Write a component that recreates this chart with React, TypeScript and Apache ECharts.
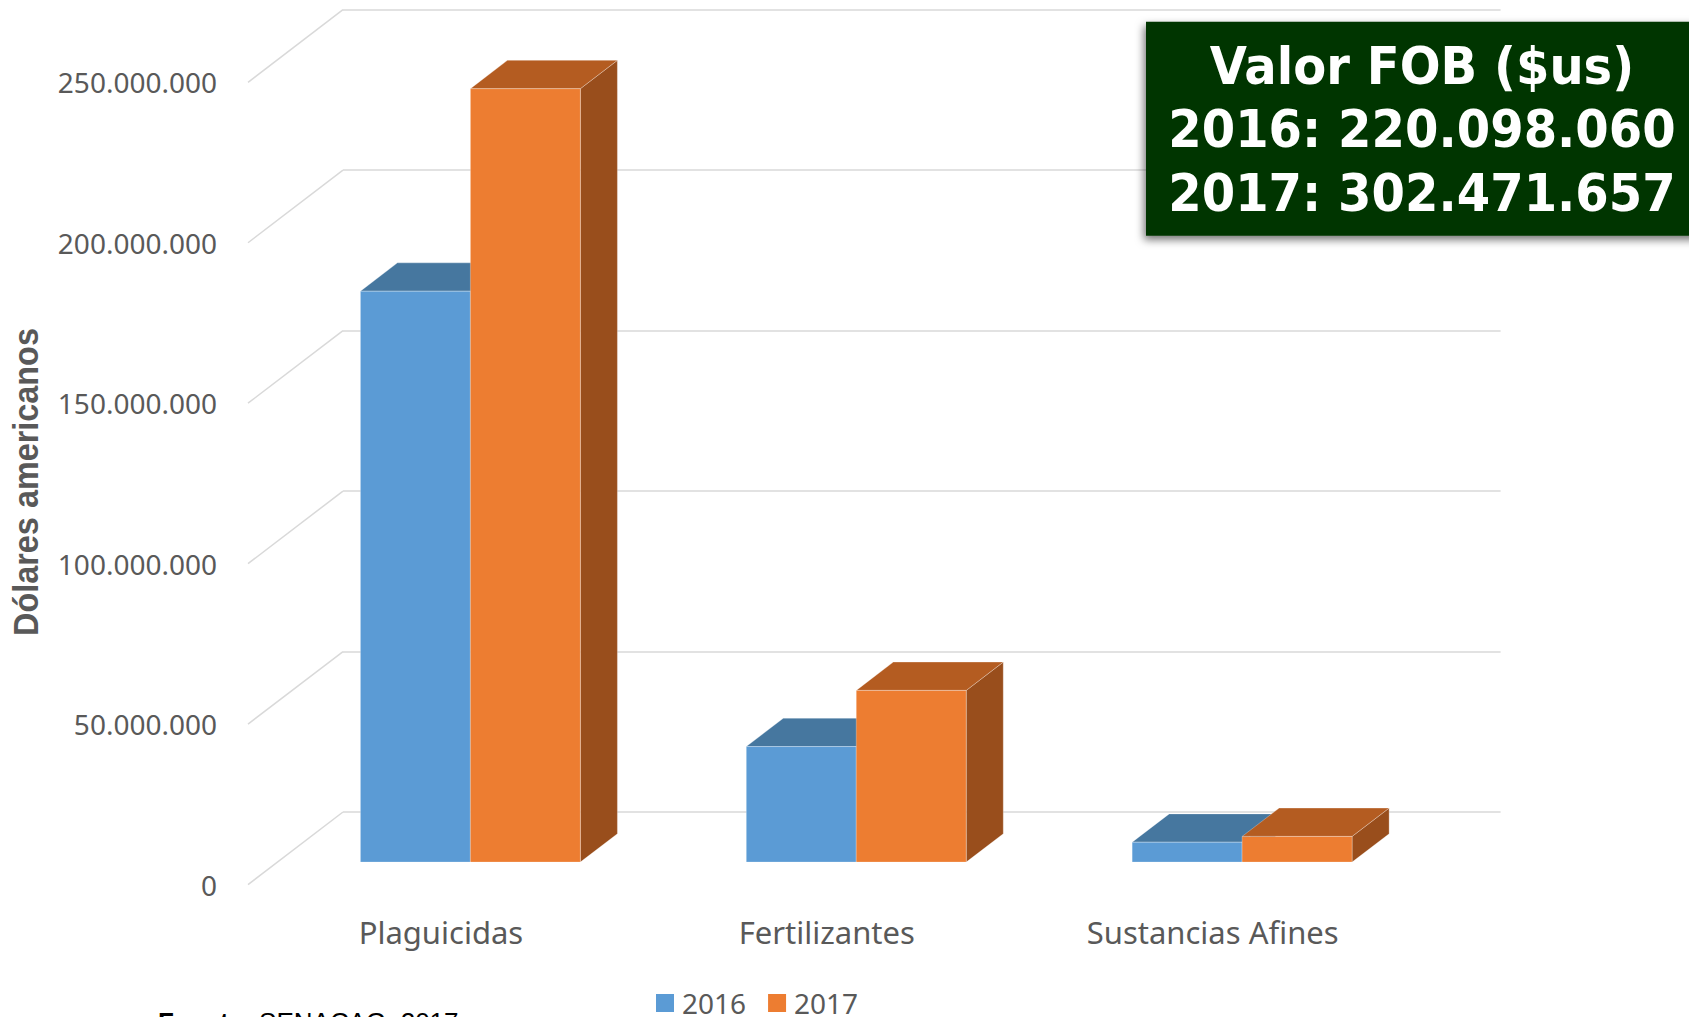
import React, { useEffect, useRef } from "react";
import * as echarts from "echarts";

// ---- data ----
const categories = ["Plaguicidas", "Fertilizantes", "Sustancias Afines"];
const seriesNames = ["2016", "2017"];
const values2016 = [177900000, 36000000, 6200000];
const values2017 = [241000000, 53500000, 8000000];
const yTicks = [0, 50000000, 100000000, 150000000, 200000000, 250000000];
const boxLines = ["Valor FOB ($us)", "2016: 220.098.060", "2017: 302.471.657"];
const axisTitle = "Dólares americanos";
const sourceBold = "Fuente:";
const sourceText = " SENACAG, 2017";

// ---- layout / style ----
const W = 1689;
const H = 1017;
const DX = -95; // oblique depth projection (front minus back)
const DY = 72.6;
const FRONT_F = 0.69; // bar front face position along depth
const BACK_F = 0.3; // bar back face position along depth
const BAR_RATIO = 0.285;
const BACK_GRID = { left: 343, top: 9.7, width: 1157.6, height: 802.3 };
const FRONT_GRID = {
  left: BACK_GRID.left + DX,
  top: BACK_GRID.top + DY,
  width: BACK_GRID.width,
  height: BACK_GRID.height,
};
const GRID_COLOR = "#D9D9D9";
const LABEL_COLOR = "#595959";
const COLORS = {
  "2016": { front: "#5B9BD5", top: "#46779F", side: "#3E6A92" },
  "2017": { front: "#ED7D31", top: "#B45C21", side: "#994E1C" },
};

const fmt = (v: number) => String(v).replace(/\B(?=(\d{3})+(?!\d))/g, ".");

function barRenderer(side: number, c: { front: string; top: string; side: string }) {
  return (params: any, api: any) => {
    const cat = api.value(0);
    const val = api.value(1);
    const base = api.coord([cat, 0]);
    const top = api.coord([cat, val]);
    const band = api.size([1, 0])[0];
    const w = band * BAR_RATIO;
    const x0 = side < 0 ? base[0] - w : base[0];
    const x1 = x0 + w;
    const fx = DX * FRONT_F;
    const fy = DY * FRONT_F;
    const bx = DX * BACK_F;
    const by = DY * BACK_F;
    const yb = base[1];
    const yt = top[1];
    const edge = { stroke: "rgba(255,255,255,0.35)", lineWidth: 0.8 };
    return {
      type: "group",
      children: [
        {
          type: "polygon",
          shape: {
            points: [
              [x1 + fx, yb + fy],
              [x1 + bx, yb + by],
              [x1 + bx, yt + by],
              [x1 + fx, yt + fy],
            ],
          },
          style: { fill: c.side, ...edge },
        },
        {
          type: "polygon",
          shape: {
            points: [
              [x0 + fx, yt + fy],
              [x1 + fx, yt + fy],
              [x1 + bx, yt + by],
              [x0 + bx, yt + by],
            ],
          },
          style: { fill: c.top, ...edge },
        },
        {
          type: "polygon",
          shape: {
            points: [
              [x0 + fx, yb + fy],
              [x1 + fx, yb + fy],
              [x1 + fx, yt + fy],
              [x0 + fx, yt + fy],
            ],
          },
          style: { fill: c.front, ...edge },
        },
      ],
    };
  };
}

export default function App() {
  const ref = useRef<HTMLDivElement>(null);
  useEffect(() => {
    if (!ref.current) return;
    const chart = echarts.init(ref.current, null, { renderer: "svg", width: W, height: H });
    const option: any = {
      animation: false,
      backgroundColor: "#ffffff",
      textStyle: { fontFamily: "Noto Sans" },
      grid: [
        { ...BACK_GRID, outerBoundsMode: "none", containLabel: false },
        { ...FRONT_GRID, outerBoundsMode: "none", containLabel: false },
      ],
      xAxis: [
        {
          type: "category",
          gridIndex: 0,
          data: categories,
          axisLine: { show: false },
          axisTick: { show: false },
          axisLabel: { show: false },
        },
        {
          type: "category",
          gridIndex: 1,
          data: categories,
          axisLine: { show: false },
          axisTick: { show: false },
          axisLabel: {
            interval: 0,
            color: LABEL_COLOR,
            fontSize: 31,
            fontFamily: "Noto Sans",
            margin: 32,
          },
        },
      ],
      yAxis: [
        {
          type: "value",
          gridIndex: 0,
          min: yTicks[0],
          max: yTicks[yTicks.length - 1],
          interval: yTicks[1] - yTicks[0],
          axisLine: { show: false },
          axisTick: { show: false },
          axisLabel: { show: false },
          splitLine: { show: true, lineStyle: { color: GRID_COLOR, width: 1.5 } },
        },
        {
          type: "value",
          gridIndex: 1,
          min: yTicks[0],
          max: yTicks[yTicks.length - 1],
          interval: yTicks[1] - yTicks[0],
          axisLine: { show: false },
          axisTick: { show: false },
          splitLine: { show: false },
          axisLabel: {
            color: LABEL_COLOR,
            fontSize: 28,
            fontFamily: "Noto Sans",
            margin: 31,
            formatter: (v: number) => fmt(v),
          },
        },
      ],
      legend: {
        data: seriesNames.map((n) => ({ name: n, icon: "rect" })),
        left: 656,
        top: 989,
        padding: 0,
        itemWidth: 18,
        itemHeight: 18,
        itemGap: 22,
        textStyle: { color: LABEL_COLOR, fontSize: 28, fontFamily: "Noto Sans", padding: [0, 0, 0, 3] },
      },
      series: [
        {
          type: "custom",
          name: "floor-diagonals",
          xAxisIndex: 0,
          yAxisIndex: 0,
          silent: true,
          data: yTicks.map((v) => [0, v]),
          renderItem: (params: any, api: any) => {
            const y = api.coord([0, api.value(1)])[1];
            const x = params.coordSys.x;
            return {
              type: "line",
              shape: { x1: x, y1: y, x2: x + DX, y2: y + DY },
              style: { stroke: GRID_COLOR, lineWidth: 1.5 },
            };
          },
        },
        {
          type: "custom",
          name: seriesNames[0],
          xAxisIndex: 0,
          yAxisIndex: 0,
          itemStyle: { color: COLORS["2016"].front },
          data: values2016.map((v, i) => [i, v]),
          renderItem: barRenderer(-1, COLORS["2016"]),
        },
        {
          type: "custom",
          name: seriesNames[1],
          xAxisIndex: 0,
          yAxisIndex: 0,
          itemStyle: { color: COLORS["2017"].front },
          data: values2017.map((v, i) => [i, v]),
          renderItem: barRenderer(1, COLORS["2017"]),
        },
      ],
      graphic: [
        {
          type: "rect",
          x: 1146,
          y: 21.7,
          shape: { width: 560, height: 214 },
          style: {
            fill: "#043604",
            shadowBlur: 8,
            shadowColor: "rgba(0,0,0,0.55)",
            shadowOffsetX: -2,
            shadowOffsetY: 4,
          },
          z: 10,
        },
        ...boxLines.map((t, i) => ({
          type: "text",
          x: 1422,
          y: 66 + i * 63.5,
          scaleX: 0.925,
          z: 11,
          style: {
            text: t,
            fill: "#ffffff",
            font: "bold 52px 'DejaVu Sans'",
            align: "center",
            verticalAlign: "middle",
          },
        })),
        {
          type: "text",
          x: 25.5,
          y: 482,
          rotation: Math.PI / 2,
          scaleX: 0.9,
          style: {
            text: axisTitle,
            fill: LABEL_COLOR,
            font: "bold 36px 'Liberation Sans'",
            align: "center",
            verticalAlign: "middle",
          },
        },
        {
          type: "text",
          x: 158,
          y: 1022,
          style: {
            text: "{b|" + sourceBold + "}{r|" + sourceText + "}",
            fill: "#000000",
            font: "26px 'Liberation Sans'",
            align: "left",
            verticalAlign: "middle",
            rich: {
              b: { fontWeight: "bold", fontSize: 26, fontFamily: "Liberation Sans", fill: "#000000" },
              r: { fontSize: 26, fontFamily: "Liberation Sans", fill: "#000000" },
            },
          },
        },
      ],
    };
    chart.setOption(option);
    return () => chart.dispose();
  }, []);
  return (
    <div
      ref={ref}
      style={{ position: "absolute", left: 0, top: 0, width: W, height: H, background: "#fff" }}
    />
  );
}
